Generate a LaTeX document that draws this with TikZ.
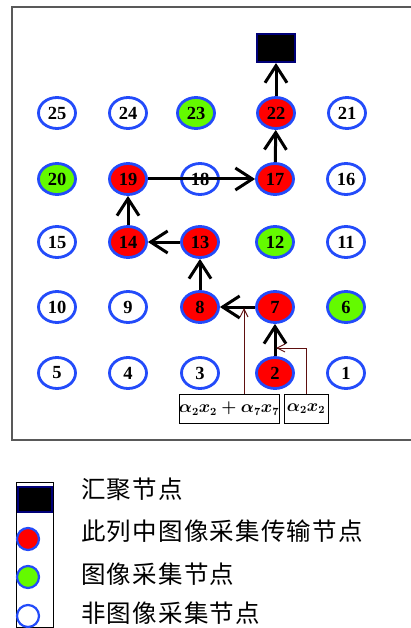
\documentclass[tikz,border=0pt]{standalone}
\usepackage{fontspec}
\setmainfont{Liberation Serif}
\newfontfamily\cjk[LetterSpace=5.0]{Noto Sans CJK SC}
\usetikzlibrary{arrows.meta,shapes.geometric}
\definecolor{nb}{RGB}{35,75,250}
\definecolor{ngreen}{RGB}{100,250,0}
\definecolor{nred}{RGB}{255,0,0}
\definecolor{navy}{RGB}{0,0,120}
\definecolor{annot}{RGB}{95,15,15}
\tikzset{
  basenode/.style={ellipse, draw=nb, line width=2.8pt, minimum width=37pt, minimum height=31pt, inner sep=0pt, font=\fontsize{18.5}{18.5}\selectfont\bfseries},
  wnode/.style={basenode, fill=white},
  rnode/.style={basenode, fill=nred},
  gnode/.style={basenode, fill=ngreen},
  sinkbox/.style={rectangle, draw=navy, fill=black, line width=2pt, minimum width=38pt, minimum height=28pt, inner sep=0pt},
  flow/.style={line width=3pt, -{Straight Barb[length=17pt,width=22pt,line width=3pt]}},
  annline/.style={draw=annot, line width=0.9pt},
  annarrow/.style={annline, -{Straight Barb[length=8pt,width=8pt,line width=0.9pt]}},
  labbox/.style={draw=black, line width=0.6pt, fill=white, inner sep=0pt, minimum height=29pt, font=\fontsize{16}{16}\selectfont\boldmath},
  legtext/.style={anchor=west, inner sep=0pt, font=\cjk\fontsize{24.5}{24.5}\selectfont},
  legcirc/.style={circle, draw=nb, line width=2.2pt, minimum size=22pt, inner sep=0pt}
}
\begin{document}
\begin{tikzpicture}[x=1pt,y=-1pt]
\useasboundingbox (0,0) rectangle (411,628);
\fill[white] (0,0) rectangle (411,628);
% frame
\draw[draw=gray!70!black, line width=2pt] (12,7) rectangle (425,440);
% grid nodes
\node[wnode] (n1)  at (346,373) {1};
\node[rnode] (n2)  at (275,373) {2};
\node[wnode] (n3)  at (200,373) {3};
\node[wnode] (n4)  at (128,373) {4};
\node[wnode] (n5)  at (57,373)  {5};
\node[gnode] (n6)  at (346,307) {6};
\node[rnode] (n7)  at (275,307) {7};
\node[rnode] (n8)  at (200,307) {8};
\node[wnode] (n9)  at (128,307) {9};
\node[wnode] (n10) at (57,307)  {10};
\node[wnode] (n11) at (346,242) {11};
\node[gnode] (n12) at (275,242) {12};
\node[rnode] (n13) at (200,242) {13};
\node[rnode] (n14) at (128,242) {14};
\node[wnode] (n15) at (57,242)  {15};
\node[wnode] (n16) at (346,179) {16};
\node[rnode] (n17) at (275,179) {17};
\node[wnode] (n18) at (200,179) {18};
\node[rnode] (n19) at (128,179) {19};
\node[gnode] (n20) at (57,179)  {20};
\node[wnode] (n21) at (347,113) {21};
\node[rnode] (n22) at (276,113) {22};
\node[gnode] (n23) at (196,113) {23};
\node[wnode] (n24) at (128,113) {24};
\node[wnode] (n25) at (57,113)  {25};
\node[sinkbox] (sink) at (276,48) {};
% flow arrows
\draw[flow] (n2) -- (n7);
\draw[flow] (n7) -- (n8);
\draw[flow] (n8) -- (n13);
\draw[flow] (n13) -- (n14);
\draw[flow] (n14) -- (n19);
\draw[flow] (n19.east) -- (n17.west);
\draw[flow] (n17) -- (n22);
\draw[flow] (n22) -- (sink);
% annotation boxes
\node[labbox, minimum width=100pt] (la) at (229,408.5) {$\alpha_2x_2+\alpha_7x_7$};
\node[labbox, minimum width=44pt] (lb) at (306,408.5) {$\alpha_2x_2$};
\coordinate (ta) at (244,308);
\coordinate (kb) at (306,348);
\coordinate (tb) at (276,348);
\draw[annarrow] (la.north -| ta) -- (ta);
\draw[annarrow] (lb.north) -- (kb) -- (tb);
% legend
\draw[black, line width=0.8pt] (16,482) rectangle (53,627);
\node[sinkbox, minimum width=34pt, minimum height=25pt] (lsink) at (34.5,499) {};
\node[legcirc, fill=nred] (lred) at (28,539) {};
\node[legcirc, fill=ngreen] (lgreen) at (28,577) {};
\node[legcirc, fill=white] (lwhite) at (28,616) {};
\node[legtext] (t1) at (81,489) {汇聚节点};
\node[legtext] (t2) at (81,531) {此列中图像采集传输节点};
\node[legtext] (t3) at (81,574) {图像采集节点};
\node[legtext] (t4) at (81,613) {非图像采集节点};
\end{tikzpicture}
\end{document}
